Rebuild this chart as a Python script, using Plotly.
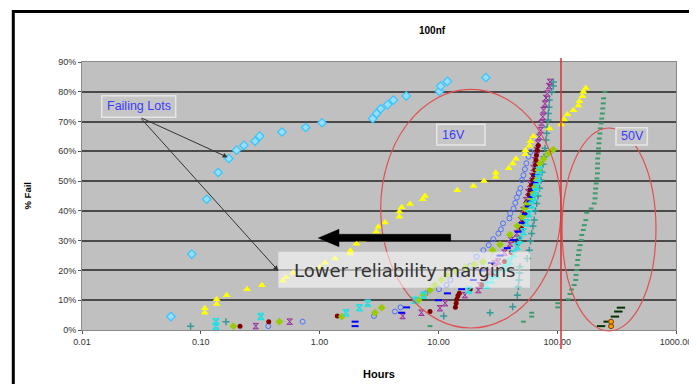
import plotly.graph_objects as go

# ---------------- data (hours, % fail) ----------------
lightblue_h = [0.056, 0.084, 0.112, 0.140, 0.172, 0.200, 0.231, 0.286, 0.313, 0.482, 0.763, 1.047,
               2.80, 3.02, 3.27, 3.74, 4.18, 5.37, 10.2, 10.45, 11.9, 25.1]
lightblue_p = [4.5, 25.5, 43.9, 52.9, 57.6, 60.4, 62.0, 63.4, 65.1, 66.5, 68.0, 69.6,
               71.0, 72.7, 74.3, 75.7, 77.2, 78.6, 80.2, 81.9, 83.5, 84.8]

yellow_h = [0.108, 0.108, 0.136, 0.136, 0.165, 0.245, 0.327, 0.489, 0.521, 0.60,
            1.00, 1.11, 1.35, 1.80, 1.82, 2.05, 2.30, 3.00, 3.12, 3.55,
            4.69, 4.69, 4.91, 5.77, 7.38, 7.71, 14.4, 19.7, 24.2, 30.4,
            30.4, 39.1, 42.3, 45.0, 54.0, 54.0, 58.5, 59.5, 63.0, 86,
            108, 114, 122, 137, 151, 154, 163, 166, 174]
yellow_p = [5.8, 7.3, 8.7, 10.3, 11.7, 13.7, 15.0, 16.5, 17.7, 19.2,
            21.0, 22.6, 24.0, 25.7, 26.6, 29.0, 30.3, 33.0, 34.7, 36.1,
            38.0, 39.7, 41.2, 42.3, 43.9, 45.0, 46.9, 48.4, 50.0, 51.4,
            52.8, 54.3, 55.9, 57.5, 59.0, 60.4, 61.9, 63.4, 65.1, 67.7,
            69.0, 70.7, 72.4, 73.8, 75.4, 76.8, 78.5, 80.0, 81.3]

teal_h = [0.082, 0.163, 11.1, 27.2, 42.2, 46.2, 47.1, 47.7, 48.2, 48.6,
          56.0, 58.2, 59.6, 61.0, 62.5, 64.1, 65.6, 67.2, 68.9, 71.0,
          73.1, 74.5, 75.9, 77.4, 78.9, 80.5, 81.6, 82.6, 83.7, 84.2,
          85.3, 85.9, 89.9, 92.7, 92.7]
teal_p = [1.3, 2.8, 4.7, 5.8, 7.8, 11.7, 14.5, 16.8, 19.1, 21.2,
          24.0, 26.8, 29.9, 32.4, 34.9, 36.9, 40.0, 42.5, 45.0, 47.6,
          50.3, 53.0, 55.7, 58.2, 61.0, 63.8, 66.1, 68.2, 70.5, 72.7,
          74.8, 77.2, 80.0, 81.9, 83.3]

purple_h = [0.29, 0.56, 5.0, 7.2, 10.3, 11.4, 16.7, 21.7, 22.4, 25.0,
            27.5, 29.9, 31.9, 36.0, 40.1, 40.8, 45.6, 47.2, 49.5, 52.0,
            54.6, 56.8, 59.0, 61.4, 63.2, 65.0, 67.2, 68.9, 70.7, 72.6,
            73.8, 75.5, 76.7, 78.9, 80.5, 82.6, 85.3, 87.0]
purple_p = [1.3, 2.8, 4.7, 5.8, 7.3, 9.0, 11.7, 13.4, 15.0, 17.0,
            19.5, 22.4, 23.0, 26.0, 29.0, 30.2, 32.4, 34.2, 36.9, 40.3,
            43.6, 46.3, 49.0, 51.7, 54.4, 57.0, 60.4, 62.8, 64.9, 67.1,
            69.5, 71.6, 73.8, 76.0, 77.9, 79.4, 81.9, 83.3]

maroon_h = [0.214, 0.373, 1.41, 8.5, 13.9, 14.1, 14.3, 14.6, 15.0, 18.5,
            23.2, 30.0, 36.0, 41.0, 46.2, 47.7, 50.2, 51.8, 53.5, 54.6,
            55.4, 57.9, 59.0, 60.8, 62.2, 63.2, 65.0, 65.7, 66.3, 66.9,
            68.0, 69.3]
maroon_p = [1.3, 2.8, 4.7, 6.2, 7.6, 9.0, 10.3, 11.5, 12.3, 13.7,
            15.1, 19.0, 23.0, 26.0, 28.9, 30.8, 34.1, 36.3, 39.2, 41.4,
            43.0, 45.3, 47.0, 48.7, 50.3, 52.0, 53.7, 55.4, 57.0, 58.7,
            60.4, 62.0]

green_h = [0.188, 0.458, 1.54, 2.92, 3.33, 6.8, 7.5, 8.5, 9.3, 10.6,
           11.7, 14.0, 17.0, 20.0, 23.7, 28.6, 33.0, 40.0, 46.0, 50.5,
           53.5, 56.0, 60.0, 63.0, 65.0, 67.2, 69.3, 71.6, 77.0, 84.2,
           92.7]
green_p = [1.3, 2.8, 4.5, 5.8, 7.5, 10.0, 11.7, 13.4, 15.1, 16.8,
           18.5, 19.8, 21.0, 22.0, 22.9, 26.8, 28.7, 32.0, 35.0, 38.0,
           40.8, 42.5, 44.2, 45.9, 48.0, 50.3, 53.7, 55.9, 57.5, 59.3,
           60.6]

bluecirc_h = [0.37, 0.72, 2.87, 4.3, 4.8, 6.6, 7.8, 10.1, 11.7, 12.6,
              15.0, 18.5, 21.0, 23.9, 26.5, 29.0, 32.0, 33.6, 35.0, 39.6,
              40.2, 42.9, 44.4, 45.8, 47.5, 49.0, 50.5, 52.0, 53.5, 55.0,
              57.5, 59.5]
bluecirc_p = [1.3, 2.8, 4.7, 6.2, 7.6, 10.0, 12.3, 13.7, 15.1, 16.8,
              18.5, 21.5, 24.6, 26.8, 28.5, 30.5, 32.4, 33.8, 35.8, 37.5,
              39.1, 40.8, 42.7, 44.5, 46.0, 47.6, 50.3, 52.0, 54.0, 56.0,
              58.2, 59.8]

cyan_h = [0.134, 0.134, 0.32, 1.67, 2.16, 2.54, 6.3, 7.5, 18.0, 25.5,
          28.0, 31.0, 36.4, 40.0, 43.0, 46.0, 48.6, 52.0, 55.0, 58.0,
          61.0, 63.5, 65.5, 67.2, 69.0, 70.7]
cyan_p = [1.3, 2.8, 4.5, 5.8, 7.5, 9.0, 10.0, 11.7, 13.4, 15.1,
          16.8, 18.5, 20.7, 23.0, 25.5, 28.0, 30.2, 33.0, 36.0, 39.0,
          42.0, 44.5, 46.5, 48.0, 51.0, 53.7]

bluedash_h = [1.99, 1.99, 4.9, 5.4, 10.0, 11.9, 15.7, 19.7, 23.2, 28.0,
              33.0, 38.0, 42.8, 47.0, 51.0, 54.0, 57.0, 59.0, 61.0, 63.0,
              65.0, 67.2]
bluedash_p = [1.3, 2.8, 5.8, 7.6, 10.0, 12.3, 13.7, 16.8, 20.0, 22.5,
              25.0, 27.5, 30.2, 33.0, 36.0, 39.0, 41.5, 43.2, 44.7, 47.0,
              49.5, 52.0]

v50_h = [8.5, 52, 61, 61, 101, 101, 124, 128, 132, 139,
         143, 144, 146, 147, 149, 151, 153, 156, 159, 161,
         166, 169, 174, 177, 193, 205, 208, 209, 211, 213,
         216, 218, 218, 219, 219, 222, 223, 225, 226, 229,
         231, 234, 237, 240, 242, 244, 246, 252]
v50_p = [1.3, 2.8, 4.5, 5.8, 7.6, 9.0, 10.3, 12.1, 13.6, 15.1,
         16.8, 18.5, 20.1, 21.8, 23.5, 25.2, 26.8, 28.5, 30.2, 31.9,
         33.6, 35.2, 36.9, 39.4, 40.8, 42.5, 44.2, 45.9, 47.5, 49.2,
         50.9, 52.6, 54.3, 55.9, 57.6, 59.3, 61.0, 62.7, 64.3, 66.0,
         67.7, 69.4, 71.0, 72.7, 74.4, 76.1, 77.8, 80.0]

darkgreen_h = [234, 266, 306, 327, 344]
darkgreen_p = [1.3, 2.8, 4.5, 6.2, 7.5]

orange_h = [284, 284]
orange_p = [1.3, 2.8]

x_tickvals = [0.01, 0.1, 1, 10, 100, 1000]
x_ticktext = ["0.01", "0.10", "1.00", "10.00", "100.00", "1000.00"]
y_tickvals = [0, 10, 20, 30, 40, 50, 60, 70, 80, 90]
y_ticktext = ["0%", "10%", "20%", "30%", "40%", "50%", "60%", "70%", "80%", "90%"]

# ---------------- figure ----------------
# the page body has an 8px margin, so the figure is sized/offset to land on the window
OFF = 8
W, H = 697 - OFF, 384 - OFF
PL, PT, PR, PB = 82, 62, 676, 330          # plot area in window pixels
PW, PH = PR - PL, PB - PT
ML, MT = PL - OFF, PT - OFF
MR, MB = W - ML - PW, H - MT - PH


def px(x):
    return (x - PL) / PW


def py(y):
    return (PB - y) / PH


FONT = "Liberation Sans, Arial, sans-serif"

fig = go.Figure()


def mk(symbol, size, color, lw=0, lc=None):
    return dict(symbol=symbol, size=size, color=color,
                line=dict(width=lw, color=lc if lc else color))


traces = [
    (v50_h, v50_p, mk("line-ew", 3.5, "#3d9b6b", 2)),
    (darkgreen_h, darkgreen_p, mk("line-ew", 6, "#003300", 2)),
    (orange_h, orange_p, mk("circle", 5, "#ff9900", 1, "#7a3d00")),
    (teal_h, teal_p, mk("cross-thin", 5, "#339999", 1.5)),
    (bluecirc_h, bluecirc_p, mk("circle-open", 5, "#4d70ff", 1)),
    (purple_h, purple_p, mk("hourglass", 5.5, "#c080c0", 1, "#993399")),
    (maroon_h, maroon_p, mk("circle", 5, "#800000")),
    (green_h, green_p, mk("diamond", 6, "#99cc00")),
    (bluedash_h, bluedash_p, mk("line-ew", 5, "#0000ff", 2)),
    (cyan_h, cyan_p, mk("hourglass-open", 6, "#22e0e0", 1.5)),
    (yellow_h, yellow_p, mk("triangle-up", 7, "#ffff00")),
    (lightblue_h, lightblue_p, mk("diamond", 6.5, "#99ddff", 1.2, "#33c6ff")),
]
for xs, ys, m in traces:
    fig.add_trace(go.Scatter(x=xs, y=ys, mode="markers", marker=m, showlegend=False,
                             hoverinfo="skip"))

shapes = []
# outer chart frame
shapes.append(dict(type="path", xref="paper", yref="paper",
                   path=f"M {px(13.3)},{py(400)} L {px(13.3)},{py(11.5)} L {px(692)},{py(11.5)} L {px(692)},{py(400)}",
                   line=dict(color="black", width=3), layer="above"))
# red ellipses and vertical line
shapes.append(dict(type="circle", xref="paper", yref="paper",
                   x0=px(380.7), x1=px(561), y0=py(328), y1=py(89.3),
                   line=dict(color="#e05050", width=1.2), layer="above"))
shapes.append(dict(type="circle", xref="paper", yref="paper",
                   x0=px(562), x1=px(656), y0=py(331), y1=py(128),
                   line=dict(color="#e05050", width=1.2), layer="above"))
shapes.append(dict(type="line", xref="paper", yref="paper",
                   x0=px(561), x1=px(561), y0=py(58), y1=py(349),
                   line=dict(color="#e03030", width=1.5), layer="above"))
# label boxes
for (x0, x1, y0, y1) in [(101.7, 175.7, 95.7, 117.3), (436.7, 485, 124.3, 145), (616, 647.3, 127.7, 145)]:
    shapes.append(dict(type="rect", xref="paper", yref="paper",
                       x0=px(x0), x1=px(x1), y0=py(y1), y1=py(y0),
                       fillcolor="#c6c6c6", line=dict(color="#e6e6e6", width=1.5), layer="above"))
# "Lower reliability margins" box
shapes.append(dict(type="rect", xref="paper", yref="paper",
                   x0=px(278.3), x1=px(530), y0=py(287.7), y1=py(251.7),
                   fillcolor="rgba(255,255,255,0.55)", line=dict(width=0), layer="above"))
# big black arrow
shapes.append(dict(type="path", xref="paper", yref="paper",
                   path=(f"M {px(318.3)},{py(238)} L {px(339)},{py(229.3)} L {px(339)},{py(234.3)} "
                         f"L {px(450.7)},{py(234.3)} L {px(450.7)},{py(241)} L {px(339)},{py(241)} "
                         f"L {px(339)},{py(246.7)} Z"),
                   fillcolor="black", line=dict(color="black", width=0.5), layer="above"))


def label(text, x, y, size, color="black", xanchor="center", family=FONT, angle=0):
    return dict(text=text, x=px(x), y=py(y), xref="paper", yref="paper", showarrow=False,
                xanchor=xanchor, yanchor="middle", textangle=angle,
                font=dict(family=family, size=size, color=color))


annotations = [
    label("<b>100nf</b>", 432, 31, 10),
    label("<b>% Fail</b>", 26.5, 196, 9.5, angle=-90),
    label("<b>Hours</b>", 379, 374, 11),
    label("Failing Lots", 104.5, 106.5, 12.5, "#3a3aff", "left"),
    label("16V", 440.2, 134.7, 12.5, "#3a3aff", "left"),
    label("50V", 618.8, 136.3, 12.5, "#3a3aff", "left"),
    label("Lower reliability margins", 404.8, 270.5, 18, "#333333",
          family="DejaVu Sans, Verdana, sans-serif"),
    dict(text="", x=px(227.7), y=py(157.3), xref="paper", yref="paper", showarrow=True,
         ax=140 - 227.7, ay=117.3 - 157.3, arrowhead=2, arrowsize=1, arrowwidth=1, arrowcolor="#333333",
         standoff=0, startstandoff=0),
    dict(text="", x=px(278.3), y=py(270.7), xref="paper", yref="paper", showarrow=True,
         ax=140 - 278.3, ay=117.3 - 270.7, arrowhead=2, arrowsize=1, arrowwidth=1, arrowcolor="#333333",
         standoff=0, startstandoff=0),
]

fig.update_layout(
    width=W, height=H,
    margin=dict(l=ML, r=MR, t=MT, b=MB, pad=0, autoexpand=False),
    paper_bgcolor="white",
    plot_bgcolor="#c0c0c0",
    showlegend=False,
    shapes=shapes,
    annotations=annotations,
    font=dict(family=FONT, size=9, color="#222222"),
    xaxis=dict(type="log", range=[-2, 3], tickvals=x_tickvals, ticktext=x_ticktext,
               showgrid=False, zeroline=False, showline=True, linecolor="#8a8a8a", linewidth=1,
               mirror=True, ticks="outside", ticklen=3, tickcolor="#555555", automargin=False,
               tickfont=dict(family=FONT, size=9, color="#333333")),
    yaxis=dict(range=[0, 90], tickvals=y_tickvals, ticktext=y_ticktext,
               showgrid=True, gridcolor="#4a4a4a", gridwidth=1.5, zeroline=False,
               showline=True, linecolor="#8a8a8a", linewidth=1, mirror=True,
               ticks="outside", ticklen=3, tickcolor="#555555", automargin=False,
               tickfont=dict(family=FONT, size=9, color="#333333")),
)

fig.write_html("out.html")
